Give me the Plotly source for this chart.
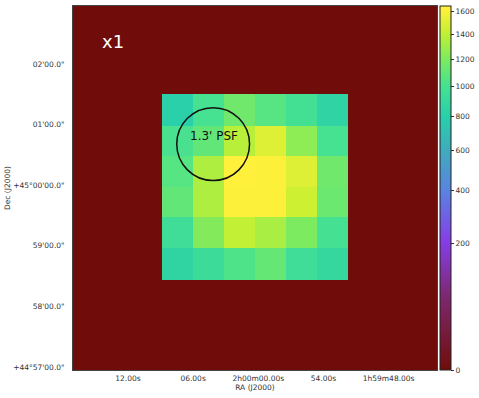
import numpy as np
import plotly.graph_objects as go

# sky grid: RA seconds from 2h00m00s, Dec arcmin from +45d00m
ra_edges = [17.0, 8.83, 5.99, 3.15, 0.28, -2.53, -5.37, -8.21, -16.4]
dec_edges = [-3.05, -1.56, -1.04, -0.52, -0.03, 0.48, 0.98, 1.50, 2.96]

flux = [
    [0, 0, 0, 0, 0, 0, 0, 0],
    [0, 850, 930, 1030, 1110, 950, 880, 0],
    [0, 950, 1220, 1400, 1330, 1200, 990, 0],
    [0, 1100, 1340, 1620, 1610, 1440, 1130, 0],
    [0, 1060, 1340, 1640, 1620, 1500, 1150, 0],
    [0, 1010, 1100, 1370, 1500, 1250, 1000, 0],
    [0, 800, 1000, 1150, 1060, 980, 840, 0],
    [0, 0, 0, 0, 0, 0, 0, 0],
]

cbar_vals = [0, 200, 400, 600, 800, 1000, 1200, 1400, 1600]
vmax = 1645

ra_ticks = [11.96, 5.98, 0, -5.98, -11.96]
ra_labels = ["12.00s", "06.00s", "2h00m00.00s", "54.00s", "1h59m48.00s"]
dec_ticks = [-3, -2, -1, 0, 1, 2]
dec_labels = ["+44°57'00.0\"", "58'00.0\"", "59'00.0\"", "+45°00'00.0\"", "01'00.0\"", "02'00.0\""]

# colours picked off the colorbar, on sqrt scale
cmap = [
    [0.0, "rgb(112,13,10)"],
    [0.2, "rgb(125,40,110)"],
    [0.35, "rgb(135,60,230)"],
    [0.49, "rgb(90,130,225)"],
    [0.6, "rgb(65,170,190)"],
    [0.695, "rgb(40,207,170)"],
    [0.78, "rgb(70,225,145)"],
    [0.855, "rgb(125,235,95)"],
    [0.925, "rgb(195,240,50)"],
    [0.987, "rgb(252,240,58)"],
    [1.0, "rgb(255,240,60)"],
]

fig = go.Figure(go.Heatmap(
    x=ra_edges, y=dec_edges, z=np.sqrt(flux),
    zmin=0, zmax=np.sqrt(vmax), colorscale=cmap,
    hoverinfo="skip",
    colorbar=dict(
        x=1.007, xanchor="left", xpad=0, y=0, yanchor="bottom", ypad=0, len=1,
        thickness=11, outlinecolor="#222", outlinewidth=1,
        tickvals=np.sqrt(cbar_vals), ticktext=[str(v) for v in cbar_vals],
        ticks="outside", ticklen=3, tickwidth=1, tickcolor="#333",
        tickfont=dict(size=7.5, color="#333", family="DejaVu Sans"),
    ),
))

# 1.3' beam
fig.add_shape(type="circle", xref="x", yref="y", x0=7.48, x1=0.80, y0=0.078, y1=1.282,
              line=dict(color="#111", width=1.5))

fig.add_annotation(x=4.1, y=0.81, text="1.3' PSF", showarrow=False,
                   font=dict(size=12, color="#111", family="DejaVu Sans"))
fig.add_annotation(x=13.37, y=2.38, text="x1", showarrow=False,
                   font=dict(size=18, color="white", family="DejaVu Sans"))

axis_font = dict(size=7.5, color="#333", family="DejaVu Sans")

# plotly ignores standoff here, so the Dec title goes in as an annotation
fig.add_annotation(xref="paper", yref="paper", x=-0.199, y=0.5, text="Dec (J2000)", textangle=-90,
                   showarrow=False, font=axis_font)

fig.update_xaxes(range=[17.0, -16.4], tickvals=ra_ticks, ticktext=ra_labels, tickfont=axis_font,
                 ticks="outside", ticklen=1, tickcolor="rgba(0,0,0,0)",
                 showgrid=False, zeroline=False, showline=True, mirror=True,
                 linecolor="#444", linewidth=1, automargin=False,
                 title=dict(text="RA (J2000)", font=axis_font, standoff=2))
fig.update_yaxes(range=[-3.05, 2.96], tickvals=dec_ticks, ticktext=dec_labels, tickfont=axis_font,
                 ticks="outside", ticklen=6, tickcolor="rgba(0,0,0,0)",
                 showgrid=False, zeroline=False, showline=True, mirror=True,
                 linecolor="#444", linewidth=1, automargin=False)

fig.update_layout(
    width=479, height=398,
    margin=dict(l=72.5, r=42, t=6, b=28, autoexpand=False),
    paper_bgcolor="white", plot_bgcolor="rgb(112,13,10)",
    showlegend=False,
)

# page body has a default margin, drop it so the plot sits at 0,0
fig.write_html("out.html", config={"displayModeBar": False},
               post_script="document.body.style.margin='0';document.body.style.overflow='hidden';")
